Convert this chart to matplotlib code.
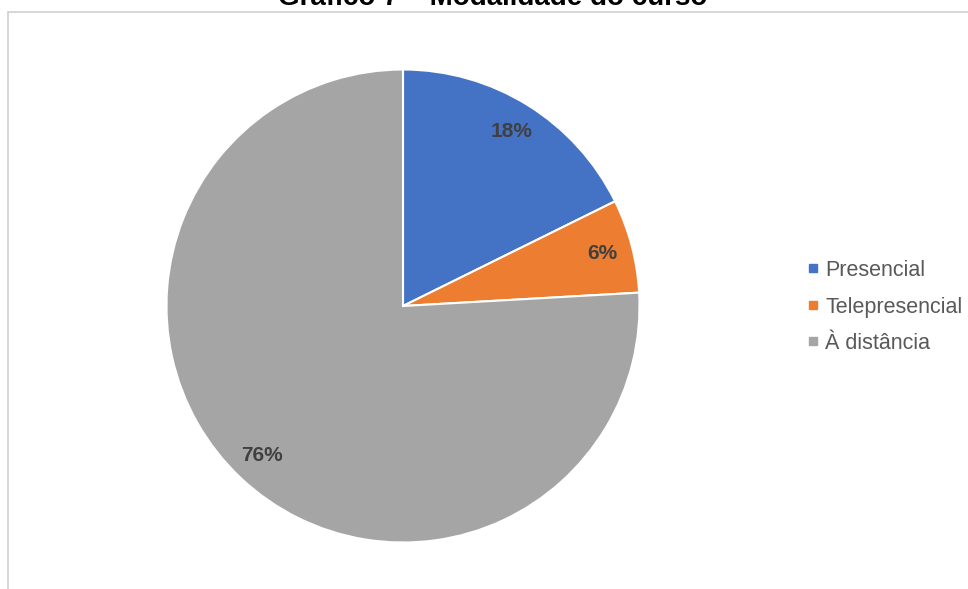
import matplotlib
matplotlib.use('Agg')
import matplotlib.pyplot as plt
from matplotlib.lines import Line2D
from matplotlib.patches import Rectangle

plt.rcParams['font.family'] = ['Liberation Sans', 'DejaVu Sans']

# modalidade do curso (% dos respondentes)
categorias = ['Presencial', 'Telepresencial', 'À distância']
percentuais = [17.7, 6.4, 75.9]
cores = ['#4472C4', '#ED7D31', '#A5A5A5']

W, H = 968, 589
fig = plt.figure(figsize=(W / 100, H / 100), dpi=100)

# moldura cinza do gráfico
moldura = Rectangle((7.5 / W, -0.05), 1.0, 1 - 12.0 / H + 0.05,
                    transform=fig.transFigure, fill=False,
                    edgecolor='#D0D0D0', linewidth=1.2)
fig.add_artist(moldura)

fig.text(493 / W, 1 - 5.0 / H, 'Gráfico 7 – Modalidade do curso',
         ha='center', va='baseline', fontsize=20, fontweight='bold',
         color='#000000')

cx, cy, r = 403, 306, 236.5
ax = fig.add_axes([(cx - r) / W, (H - cy - r) / H, 2 * r / W, 2 * r / H])
fatias, _, rotulos = ax.pie(percentuais, colors=cores, startangle=90,
                            counterclock=False, autopct='%.0f%%',
                            pctdistance=0.87, radius=1,
                            wedgeprops=dict(edgecolor='white', linewidth=1.5))
for t in rotulos:
    t.set_fontsize(15)
    t.set_fontweight('bold')
    t.set_color('#404040')
ax.set_xlim(-1, 1)
ax.set_ylim(-1, 1)
ax.set_aspect('auto')
ax.axis('off')

marcas = [Line2D([0], [0], marker='s', linestyle='none', markersize=5.5,
                 markerfacecolor=c, markeredgecolor=c) for c in cores]
leg = fig.legend(marcas, categorias, loc='center left',
                 bbox_to_anchor=(796 / W, 1 - 307.0 / H),
                 frameon=False, fontsize=15.5, handlelength=0.6,
                 handletextpad=0.25, labelspacing=0.72, borderpad=0)
for t in leg.get_texts():
    t.set_color('#595959')

fig.savefig('out.png', dpi=100, facecolor='white')
